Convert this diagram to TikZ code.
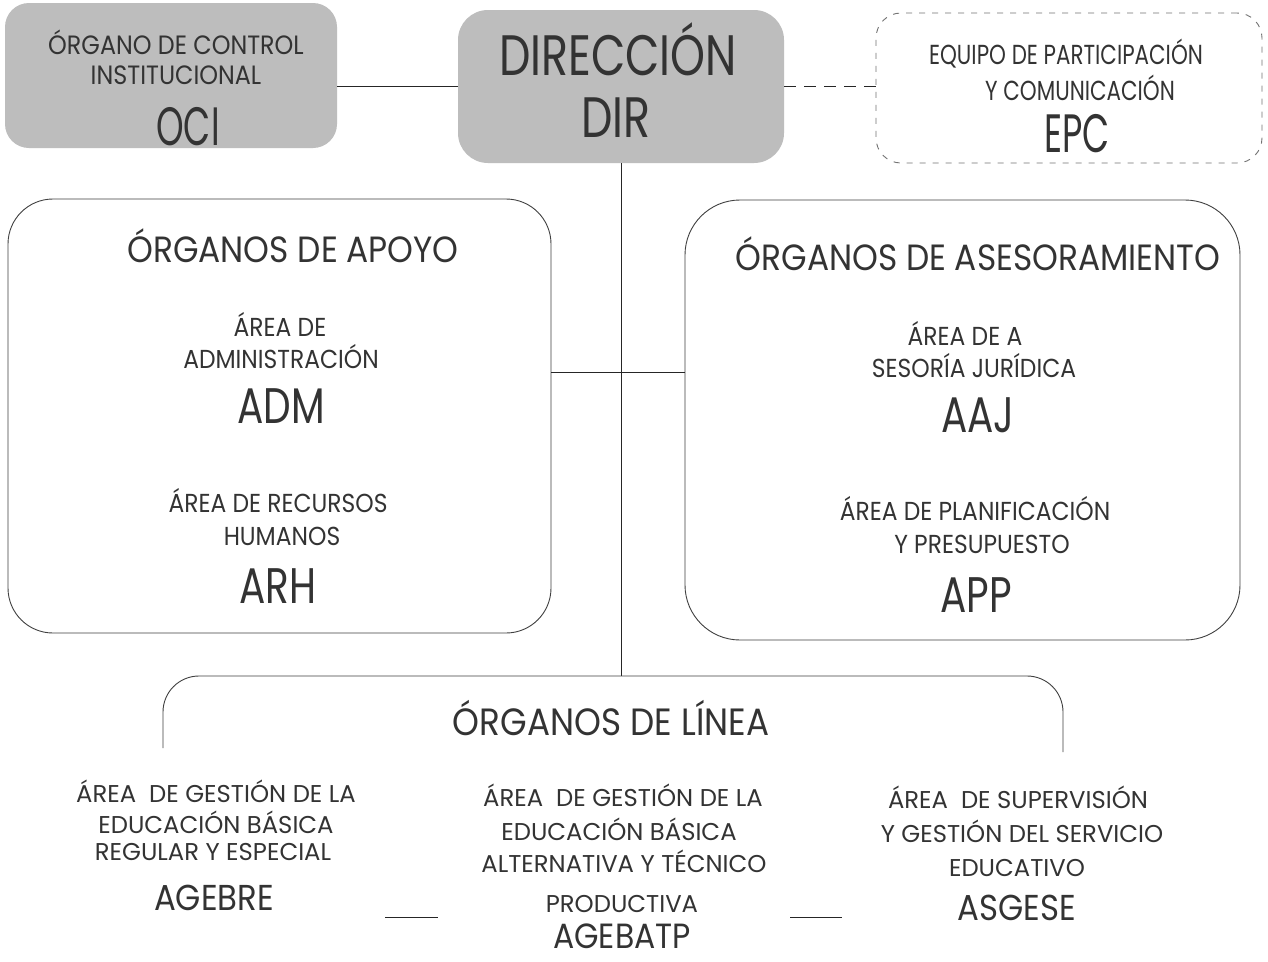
\documentclass[tikz,border=0pt]{standalone}
\usepackage{fontspec}
\setmainfont{Poppins}
\newfontfamily\fa{Poppins}[FakeStretch=0.9]
\newfontfamily\fb{Poppins}[FakeStretch=0.78]
\newfontfamily\fc{Poppins}[FakeStretch=0.65]
\newfontfamily\fd{Poppins}
\newcommand\fsz[1]{\fontsize{#1}{#1}\selectfont}
\begin{document}
\begin{tikzpicture}[x=1pt,y=-1pt,
  txt/.style={anchor=base, inner sep=0pt, outer sep=0pt, text=black!80},
  boxbase/.style={rectangle, inner sep=0pt, outer sep=0pt},
  graybox/.style={boxbase, fill=black!26, rounded corners=24pt},
  orgbox/.style={draw=black!75, line width=0.9pt},
  epcbox/.style={boxbase, draw=black!55, line width=0.9pt, dash pattern=on 6pt off 7pt, rounded corners=25pt},
  conn/.style={draw=black!85, line width=1pt}]
\fill[white] (0,0) rectangle (1268,961);
\useasboundingbox (0,0) rectangle (1268,961);

% boxes
\node[graybox, minimum width=332pt, minimum height=145pt] (oci) at (171,75.5) {};
\node[graybox, minimum width=326pt, minimum height=153pt, rounded corners=30pt] (dir) at (621,86.5) {};
\node[epcbox, minimum width=386pt, minimum height=150pt] (epc) at (1069,88) {};
\node[boxbase, orgbox, rounded corners=45pt, minimum width=543pt, minimum height=434pt] (apoyo) at (279.5,416) {};
\node[boxbase, orgbox, rounded corners=55pt, minimum width=555pt, minimum height=440pt] (aseso) at (962.5,420) {};

% connectors
\draw[conn] (dir.west) -- (dir.west -| oci.east);
\draw[conn, dash pattern=on 12pt off 8pt] (dir.east) -- (dir.east -| epc.west);
\coordinate (ltop) at (621,676);
\coordinate (mid) at (621,372);
\draw[conn] (dir.south) -- (ltop);
\draw[conn] (apoyo.east |- mid) -- (aseso.west |- mid);
\coordinate (lnl) at (163,748);
\coordinate (lnlt) at (163,676);
\coordinate (lnrt) at (1063,676);
\coordinate (lnr) at (1063,752);
\draw[orgbox, rounded corners=36pt] (lnl) -- (lnlt) -- (lnrt) -- (lnr);
\coordinate (sa1) at (385,917);
\coordinate (sa2) at (438,917);
\coordinate (sb1) at (790,917);
\coordinate (sb2) at (842,917);
\draw[conn] (sa1) -- (sa2);
\draw[conn] (sb1) -- (sb2);

% OCI
\node[txt, font={\fa\fsz{26.5}}] (ocit1) at (176,54) {ÓRGANO DE CONTROL};
\node[txt, font={\fa\fsz{26.5}}] (ocit2) at (176,84) {INSTITUCIONAL};
\node[txt, font={\fc\fsz{54}}] (ocia) at (188,145) {OCI};
% DIR
\node[txt, font={\fb\fsz{57}}] (dirt) at (618,75) {DIRECCIÓN};
\node[txt, font={\fb\fsz{57}}] (dira) at (616,137) {DIR};
% EPC
\node[txt, font={\fb\fsz{27.5}}] (epct1) at (1066,64) {EQUIPO DE PARTICIPACIÓN};
\node[txt, font={\fb\fsz{27.5}}] (epct2) at (1080,100) {Y COMUNICACIÓN};
\node[txt, font={\fc\fsz{54}}] (epca) at (1077,152) {EPC};
% Apoyo
\node[txt, font={\fa\fsz{36.5}}] (apt) at (293,262) {ÓRGANOS DE APOYO};
\node[txt, font={\fa\fsz{26}}] (ap1) at (280,336) {ÁREA DE};
\node[txt, font={\fa\fsz{26}}] (ap2) at (281,368) {ADMINISTRACIÓN};
\node[txt, font={\fb\fsz{50}}] (ap3) at (281,423) {ADM};
\node[txt, font={\fa\fsz{26}}] (ap4) at (278,512) {ÁREA DE RECURSOS};
\node[txt, font={\fa\fsz{26}}] (ap5) at (282,545) {HUMANOS};
\node[txt, font={\fb\fsz{50}}] (ap6) at (278,603) {ARH};
% Asesoramiento
\node[txt, font={\fa\fsz{36.5}}] (ast) at (978,270) {ÓRGANOS DE ASESORAMIENTO};
\node[txt, font={\fa\fsz{26}}] (as1) at (965,345) {ÁREA DE A};
\node[txt, font={\fa\fsz{26}}] (as2) at (974,377) {SESORÍA JURÍDICA};
\node[txt, font={\fb\fsz{50}}] (as3) at (978,432) {AAJ};
\node[txt, font={\fa\fsz{26}}] (as4) at (975,520) {ÁREA DE PLANIFICACIÓN};
\node[txt, font={\fa\fsz{26}}] (as5) at (982,553) {Y PRESUPUESTO};
\node[txt, font={\fb\fsz{50}}] (as6) at (976,612) {APP};
% Linea
\node[txt, font={\fa\fsz{38}}] (lnt) at (611,735) {ÓRGANOS DE LÍNEA};
\node[txt, font={\fd\fsz{24.3}}] (c11) at (216,802) {ÁREA\ \ DE GESTIÓN DE LA};
\node[txt, font={\fd\fsz{24.3}}] (c12) at (216,833) {EDUCACIÓN BÁSICA};
\node[txt, font={\fd\fsz{24.3}}] (c13) at (213,860) {REGULAR Y ESPECIAL};
\node[txt, font={\fa\fsz{36}}] (c14) at (214,910) {AGEBRE};
\node[txt, font={\fd\fsz{24.3}}] (c21) at (623,806) {ÁREA\ \ DE GESTIÓN DE LA};
\node[txt, font={\fd\fsz{24.3}}] (c22) at (619,840) {EDUCACIÓN BÁSICA};
\node[txt, font={\fd\fsz{24.3}}] (c23) at (624,872) {ALTERNATIVA Y TÉCNICO};
\node[txt, font={\fd\fsz{24.3}}] (c24) at (622,912) {PRODUCTIVA};
\node[txt, font={\fa\fsz{35}}] (c25) at (622,948) {AGEBATP};
\node[txt, font={\fd\fsz{24.3}}] (c31) at (1018,808) {ÁREA\ \ DE SUPERVISIÓN};
\node[txt, font={\fd\fsz{24.3}}] (c32) at (1022,842) {Y GESTIÓN DEL SERVICIO};
\node[txt, font={\fd\fsz{24.3}}] (c33) at (1017,876) {EDUCATIVO};
\node[txt, font={\fa\fsz{36}}] (c34) at (1017,920) {ASGESE};
\end{tikzpicture}
\end{document}
